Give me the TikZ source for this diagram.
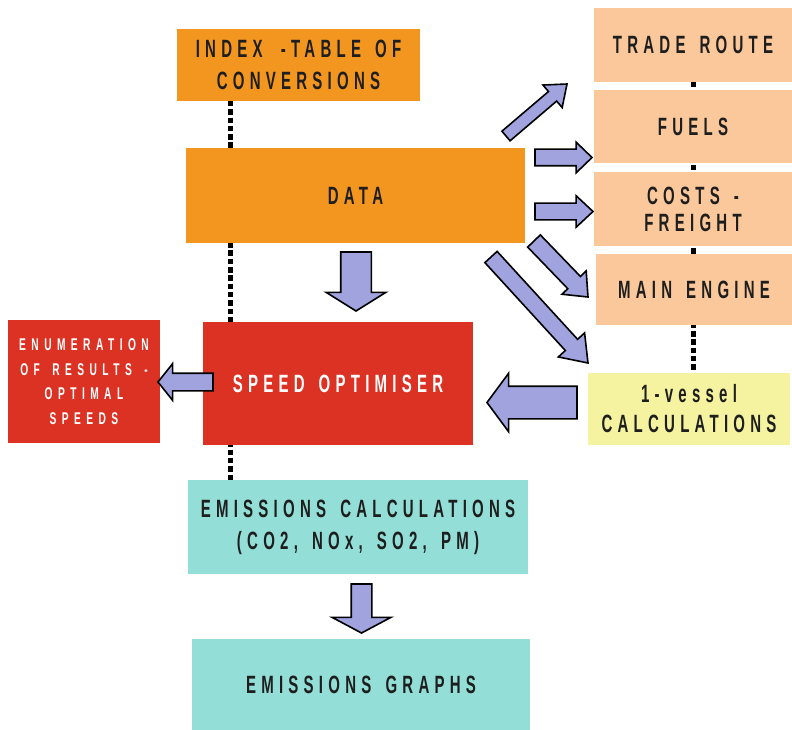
\documentclass[tikz,border=0pt]{standalone}
\usepackage{fontspec}
\setmainfont{Liberation Sans}[FakeStretch=0.6, LetterSpace=21, WordSpace=1.5]
\usetikzlibrary{shapes.arrows,calc,backgrounds}
\definecolor{orng}{HTML}{F39620}
\definecolor{peach}{HTML}{FAC89B}
\definecolor{redb}{HTML}{DC3224}
\definecolor{yell}{HTML}{F5F3A0}
\definecolor{teal}{HTML}{93DED6}
\definecolor{arr}{HTML}{A0A3DE}
\definecolor{txt}{HTML}{1E1E1E}
\tikzset{
  box/.style={rectangle, inner sep=0pt, outer sep=0pt, align=center,
    font=\fontsize{25}{32}\selectfont\bfseries, text=txt},
  barrow/.style={single arrow, draw=black, line width=1.6pt, fill=arr,
    inner xsep=0pt, outer sep=0pt, minimum width=0pt, line join=miter},
  dotline/.style={line width=5pt, dash pattern=on 5.5pt off 2.8pt, black}
}
% tail, tip, half shaft width, head extend beyond shaft, tip angle, name
\newcommand\blockarr[6]{%
  \path let \p1=(#1), \p2=(#2),
    \n1={atan2(\y2-\y1,\x2-\x1)}, \n2={veclen(\x2-\x1,\y2-\y1)} in
    node[barrow, rotate=\n1, minimum height=\n2, inner ysep=#3,
      single arrow head extend=#4, single arrow tip angle=#5, anchor=tail] (#6) at (\p1) {};}
\begin{document}
\begin{tikzpicture}[x=1pt,y=-1pt]
\useasboundingbox (0,0) rectangle (792,730);
% boxes
\node[box, fill=orng, minimum width=243, minimum height=72] (index) at (298.5,65) {INDEX \,-TABLE OF\\CONVERSIONS};
\node[box, fill=orng, minimum width=339, minimum height=95] (data) at (355.5,195.5) {DATA};
\node[box, fill=peach, minimum width=198, minimum height=74] (trade) at (693,45) {TRADE ROUTE};
\node[box, fill=peach, minimum width=198, minimum height=73] (fuels) at (693,126.5) {FUELS};
\node[box, fill=peach, minimum width=198, minimum height=74, font=\fontsize{25}{27}\selectfont\bfseries] (costs) at (693,209) {COSTS -\\FREIGHT};
\node[box, fill=peach, minimum width=196, minimum height=71] (engine) at (694,289.5) {MAIN ENGINE};
\node[box, fill=yell, minimum width=202, minimum height=72, font=\fontsize{25}{30}\selectfont\bfseries] (vessel) at (689,409) {1-vessel\\CALCULATIONS};
\node[box, fill=redb, minimum width=152, minimum height=123, text=white, font=\fontsize{17}{24.5}\selectfont\bfseries\addfontfeature{LetterSpace=32}] (enum) at (84,381.5) {ENUMERATION\\OF RESULTS -\\OPTIMAL\\SPEEDS};
\node[box, fill=redb, minimum width=270, minimum height=123, text=white] (speed) at (338,383.5) {SPEED OPTIMISER};
\node[box, fill=teal, minimum width=340, minimum height=94] (emis) at (358,527) {EMISSIONS CALCULATIONS\\(CO2, NOx, SO2, PM)};
\node[box, fill=teal, minimum width=338, minimum height=91] (graphs) at (361,684.5) {EMISSIONS GRAPHS};
% dotted links behind boxes
\coordinate (dl) at (230,0);
\coordinate (dr) at (693,0);
\begin{scope}[on background layer]
  \draw[dotline] (index.south -| dl) -- (emis.north -| dl);
  \draw[dotline] (trade.south -| dr) -- (vessel.north -| dr);
\end{scope}
% block arrow end points
\coordinate (a1t) at (356,252);   \coordinate (a1h) at (356,311);
\coordinate (a2t) at (361.5,584); \coordinate (a2h) at (361.5,633);
\coordinate (a3t) at (213,382);   \coordinate (a3h) at (158,382);
\coordinate (a4t) at (577,402.5); \coordinate (a4h) at (487,402.5);
\coordinate (a5t) at (535,157.5); \coordinate (a5h) at (592,157.5);
\coordinate (a6t) at (535,211.5); \coordinate (a6h) at (593,211.5);
\coordinate (a7t) at (506,136);   \coordinate (a7h) at (567,84);
\coordinate (a8t) at (534,241);   \coordinate (a8h) at (588,297);
\coordinate (a9t) at (491,257);   \coordinate (a9h) at (588,363);
\blockarr{a1t}{a1h}{14.5pt}{14.5pt}{116}{arrA}
\blockarr{a2t}{a2h}{9.5pt}{19pt}{124}{arrB}
\blockarr{a3t}{a3h}{8pt}{9.5pt}{103}{arrC}
\blockarr{a4t}{a4h}{15.5pt}{13pt}{107}{arrD}
\blockarr{a5t}{a5h}{7.5pt}{7pt}{88}{arrE}
\blockarr{a6t}{a6h}{7.5pt}{7.5pt}{86}{arrF}
\blockarr{a7t}{a7h}{5.5pt}{8.5pt}{76}{arrG}
\blockarr{a8t}{a8h}{8pt}{8pt}{80}{arrH}
\blockarr{a9t}{a9h}{7.5pt}{9.5pt}{72}{arrI}
\end{tikzpicture}
\end{document}
